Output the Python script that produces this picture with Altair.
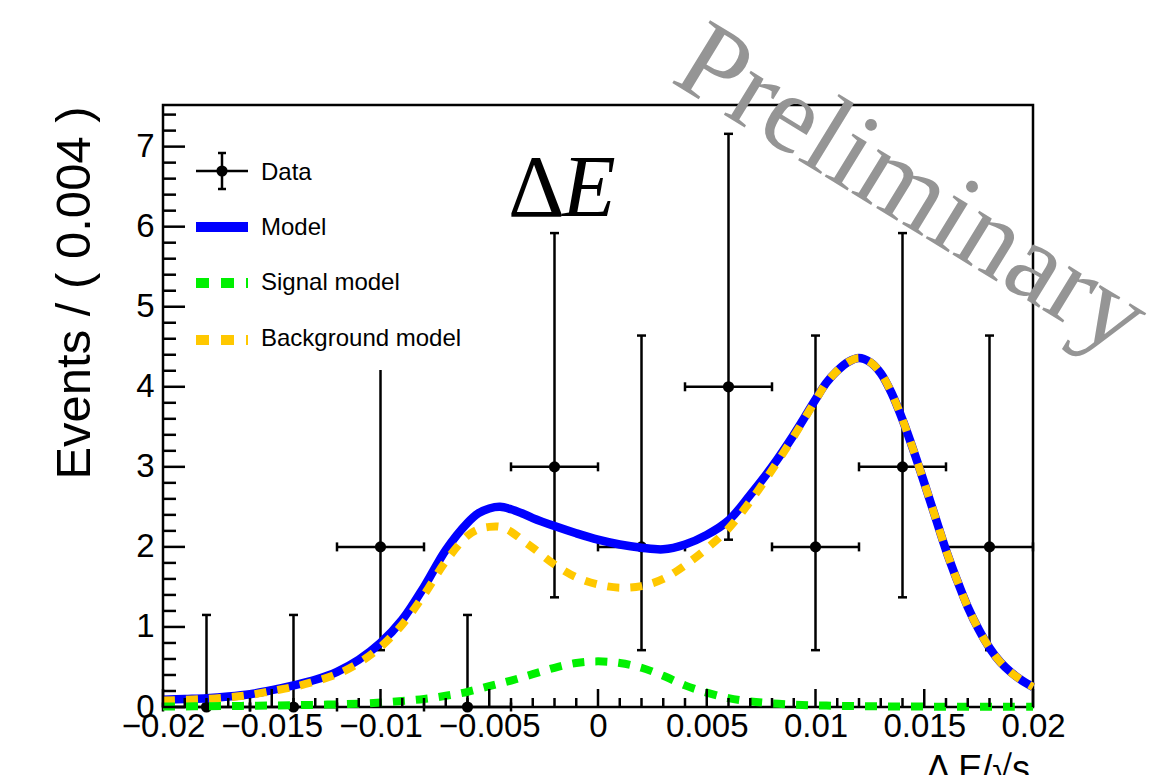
import altair as alt
import pandas as pd

# ---------------- data ----------------
bin_centers = [-0.018, -0.014, -0.010, -0.006, -0.002, 0.002, 0.006, 0.010, 0.014, 0.018]
counts      = [0, 0, 2, 0, 3, 2, 4, 2, 3, 2]
err_low     = [0, 0, 0.71, 0, 1.37, 0.71, 2.09, 0.71, 1.37, 0.71]
err_high    = [1.15, 1.15, 4.64, 1.15, 5.92, 4.64, 7.16, 4.64, 5.92, 4.64]
bin_half    = 0.002

# model / background curves
curve_x = [-0.020, -0.019, -0.018, -0.017, -0.016, -0.015, -0.014, -0.013, -0.012, -0.011,
           -0.010, -0.009, -0.008, -0.007, -0.006, -0.0055, -0.005, -0.0045, -0.004, -0.0035,
           -0.003, -0.002, -0.001, 0.000, 0.001, 0.002, 0.003, 0.004, 0.005, 0.006,
           0.007, 0.008, 0.009, 0.010, 0.0105, 0.011, 0.0115, 0.012, 0.0125, 0.013,
           0.0135, 0.014, 0.0145, 0.015, 0.0155, 0.016, 0.0165, 0.017, 0.0175, 0.018,
           0.0185, 0.019, 0.0195, 0.020]
model_y = [0.09, 0.10, 0.11, 0.13, 0.16, 0.21, 0.27, 0.34, 0.44, 0.59,
           0.80, 1.09, 1.50, 1.96, 2.30, 2.42, 2.48, 2.50, 2.47, 2.42,
           2.36, 2.26, 2.17, 2.09, 2.03, 1.99, 1.97, 2.03, 2.15, 2.33,
           2.65, 3.00, 3.40, 3.84, 4.05, 4.20, 4.31, 4.36, 4.31, 4.17,
           3.92, 3.59, 3.21, 2.80, 2.38, 1.96, 1.59, 1.25, 0.97, 0.74,
           0.56, 0.43, 0.33, 0.25]
bkg_y = [0.08, 0.09, 0.10, 0.12, 0.15, 0.20, 0.25, 0.32, 0.41, 0.55,
         0.75, 1.03, 1.40, 1.82, 2.14, 2.22, 2.25, 2.25, 2.19, 2.09,
         1.99, 1.78, 1.62, 1.53, 1.49, 1.51, 1.60, 1.77, 1.98, 2.23,
         2.57, 2.96, 3.38, 3.83, 4.05, 4.20, 4.31, 4.36, 4.31, 4.17,
         3.92, 3.59, 3.21, 2.80, 2.38, 1.96, 1.59, 1.25, 0.97, 0.74,
         0.56, 0.43, 0.33, 0.25]

# signal curve
signal_x = [-0.020, -0.019, -0.018, -0.017, -0.016, -0.015, -0.014, -0.013, -0.012, -0.011,
            -0.010, -0.009, -0.008, -0.007, -0.006, -0.005, -0.004, -0.003, -0.002, -0.001,
            0.000, 0.001, 0.002, 0.003, 0.004, 0.005, 0.006, 0.007, 0.008, 0.009,
            0.010, 0.011, 0.012, 0.013, 0.014, 0.015, 0.016, 0.017, 0.018, 0.019, 0.020]
signal_y = [0.005, 0.007, 0.010, 0.012, 0.015, 0.018, 0.022, 0.027, 0.033, 0.042,
            0.055, 0.075, 0.10, 0.14, 0.19, 0.26, 0.33, 0.41, 0.49, 0.55,
            0.57, 0.55, 0.49, 0.39, 0.27, 0.18, 0.11, 0.07, 0.045, 0.03,
            0.02, 0.015, 0.010, 0.008, 0.006, 0.005, 0.004, 0.003, 0.003, 0.002, 0.002]

x_major = [-0.02, -0.015, -0.01, -0.005, 0.0, 0.005, 0.01, 0.015, 0.02]
x_minor = [-0.019, -0.018, -0.017, -0.016, -0.014, -0.013, -0.012, -0.011,
           -0.009, -0.008, -0.007, -0.006, -0.004, -0.003, -0.002, -0.001,
           0.001, 0.002, 0.003, 0.004, 0.006, 0.007, 0.008, 0.009,
           0.011, 0.012, 0.013, 0.014, 0.016, 0.017, 0.018, 0.019]
y_major = [0, 1, 2, 3, 4, 5, 6, 7]
y_minor = [0.2, 0.4, 0.6, 0.8, 1.2, 1.4, 1.6, 1.8, 2.2, 2.4, 2.6, 2.8,
           3.2, 3.4, 3.6, 3.8, 4.2, 4.4, 4.6, 4.8, 5.2, 5.4, 5.6, 5.8,
           6.2, 6.4, 6.6, 6.8, 7.2, 7.4]

legend_labels = ["Data", "Model", "Signal model", "Background model"]

# ---------------- tables ----------------
data_df = pd.DataFrame({
    "x": bin_centers, "n": counts, "lo": err_low, "hi": err_high,
    "xl": [c - bin_half for c in bin_centers],
    "xr": [c + bin_half for c in bin_centers],
})
curve_df = pd.DataFrame({"x": curve_x, "model": model_y, "bkg": bkg_y})
signal_df = pd.DataFrame({"x": signal_x, "sig": signal_y})
one = pd.DataFrame({"a": [0]})

W, H = 870, 602
FONT = "Liberation Sans"

x_scale = alt.Scale(domain=[-0.02, 0.02], nice=False, zero=False)
y_scale = alt.Scale(domain=[0, 7.52], nice=False, zero=False)

x_axis = alt.Axis(title=None, values=x_major, format=".3~f", grid=False, domain=False,
                  ticks=False, labelFont=FONT, labelFontSize=33, labelColor="black",
                  labelPadding=3, labelFlush=False, labelOverlap=False)
y_axis = alt.Axis(title=None, values=y_major, format="d", grid=False, domain=False,
                  ticks=False, labelFont=FONT, labelFontSize=33, labelColor="black",
                  labelPadding=9, labelFlush=False, labelOverlap=False)


def X(f):
    return alt.X(f, type="quantitative", scale=x_scale, axis=x_axis)


def Y(f):
    return alt.Y(f, type="quantitative", scale=y_scale, axis=y_axis)


base = alt.Chart(data_df)
vbar = base.mark_rule(color="black", strokeWidth=2.5).encode(x=X("x"), y=Y("lo"), y2="hi")
hbar = base.mark_rule(color="black", strokeWidth=2.5).encode(x=X("xl"), x2="xr", y=Y("n"))
cap_top = base.mark_tick(orient="horizontal", size=9, thickness=2.5, color="black", opacity=1).encode(x=X("x"), y=Y("hi"))
cap_bot = base.mark_tick(orient="horizontal", size=9, thickness=2.5, color="black", opacity=1).encode(x=X("x"), y=Y("lo"))
cap_l = base.mark_tick(orient="vertical", size=9, thickness=2.5, color="black", opacity=1).encode(x=X("xl"), y=Y("n"))
cap_r = base.mark_tick(orient="vertical", size=9, thickness=2.5, color="black", opacity=1).encode(x=X("xr"), y=Y("n"))
points = base.mark_circle(size=125, color="black", opacity=1).encode(x=X("x"), y=Y("n"))

cbase = alt.Chart(curve_df)
model_line = cbase.mark_line(color="#0000ff", strokeWidth=8.5, interpolate="catmull-rom").encode(x=X("x"), y=Y("model"))
bkg_line = cbase.mark_line(color="#ffc800", strokeWidth=8, strokeDash=[12, 11], strokeCap="butt",
                           interpolate="catmull-rom").encode(x=X("x"), y=Y("bkg"))
sig_line = alt.Chart(signal_df).mark_line(color="#00f000", strokeWidth=8, strokeDash=[12, 11], strokeCap="butt",
                                          interpolate="catmull-rom").encode(x=X("x"), y=Y("sig"))

# ---------------- legend (drawn by hand, ROOT style) ----------------
leg_box = alt.Chart(one).mark_rect(color="white").encode(
    x=alt.value(27), x2=alt.value(332), y=alt.value(35), y2=alt.value(265))
leg_data_h = alt.Chart(one).mark_rule(color="black", strokeWidth=2.5).encode(
    x=alt.value(33), x2=alt.value(85), y=alt.value(66))
leg_data_v = alt.Chart(one).mark_rule(color="black", strokeWidth=2.5).encode(
    x=alt.value(59), y=alt.value(48), y2=alt.value(84))
leg_cap1 = alt.Chart(one).mark_rule(color="black", strokeWidth=2.5).encode(
    x=alt.value(55), x2=alt.value(63), y=alt.value(48))
leg_cap2 = alt.Chart(one).mark_rule(color="black", strokeWidth=2.5).encode(
    x=alt.value(55), x2=alt.value(63), y=alt.value(84))
leg_dot = alt.Chart(one).mark_circle(size=125, color="black", opacity=1).encode(
    x=alt.value(59), y=alt.value(66))
leg_model = alt.Chart(one).mark_rule(color="#0000ff", strokeWidth=10).encode(
    x=alt.value(33), x2=alt.value(85), y=alt.value(122))
leg_sig = alt.Chart(one).mark_rule(color="#00f000", strokeWidth=10, strokeDash=[13, 12], strokeCap="butt").encode(
    x=alt.value(33), x2=alt.value(85), y=alt.value(178))
leg_bkg = alt.Chart(one).mark_rule(color="#ffc800", strokeWidth=10, strokeDash=[13, 12], strokeCap="butt").encode(
    x=alt.value(33), x2=alt.value(85), y=alt.value(235))

leg_texts = []
for label, ypx in zip(legend_labels, [68, 123, 178, 234]):
    leg_texts.append(
        alt.Chart(pd.DataFrame({"t": [label]})).mark_text(
            font=FONT, fontSize=24, align="left", baseline="middle", color="black"
        ).encode(text="t:N", x=alt.value(98), y=alt.value(ypx))
    )

# ---------------- ticks (inside the frame) ----------------
xmaj = alt.Chart(pd.DataFrame({"v": x_major})).mark_rule(color="black", strokeWidth=2.5).encode(
    x=X("v"), y=alt.value(H), y2=alt.value(H - 18))
xmin = alt.Chart(pd.DataFrame({"v": x_minor})).mark_rule(color="black", strokeWidth=2.5).encode(
    x=X("v"), y=alt.value(H), y2=alt.value(H - 9))
ymaj = alt.Chart(pd.DataFrame({"v": y_major})).mark_rule(color="black", strokeWidth=2.5).encode(
    y=Y("v"), x=alt.value(0), x2=alt.value(22))
ymin = alt.Chart(pd.DataFrame({"v": y_minor})).mark_rule(color="black", strokeWidth=2.5).encode(
    y=Y("v"), x=alt.value(0), x2=alt.value(13))

# ---------------- texts ----------------
def txt(s, x, y, **kw):
    return alt.Chart(pd.DataFrame({"t": [s]})).mark_text(**kw).encode(
        text="t:N", x=alt.value(x), y=alt.value(y))

y_title = txt("Events / ( 0.004 )", -73, 188, font=FONT, fontSize=49, angle=270,
              align="center", baseline="alphabetic", color="black")
x_title = txt("\u0394 E/\u221as", 867, 676, font=FONT, fontSize=36,
              align="right", baseline="alphabetic", color="black")
delta = txt("\u0394", 345, 111, font="Liberation Serif", fontSize=88,
            align="left", baseline="alphabetic", color="black")
e_it = txt("E", 399, 111, font="Liberation Serif", fontSize=88, fontStyle="italic",
           align="left", baseline="alphabetic", color="black")
prelim = txt("Preliminary", 506, -24, font="Liberation Serif", fontSize=112, angle=31.5,
             align="left", baseline="alphabetic", color="#959595")

chart = alt.layer(
    vbar, hbar, cap_top, cap_bot, cap_l, cap_r, points,
    model_line, bkg_line, sig_line,
    leg_box, leg_data_h, leg_data_v, leg_cap1, leg_cap2, leg_dot, leg_model, leg_sig, leg_bkg,
    *leg_texts,
    xmaj, xmin, ymaj, ymin,
    y_title, x_title, delta, e_it, prelim,
).properties(
    width=W, height=H,
    autosize=alt.AutoSizeParams(type="none"),
    padding={"left": 163, "top": 105, "right": 121, "bottom": 68},
    background="white",
).configure_view(stroke="black", strokeWidth=2.5)

chart.save("out.html", embed_options={"renderer": "svg", "actions": False})
